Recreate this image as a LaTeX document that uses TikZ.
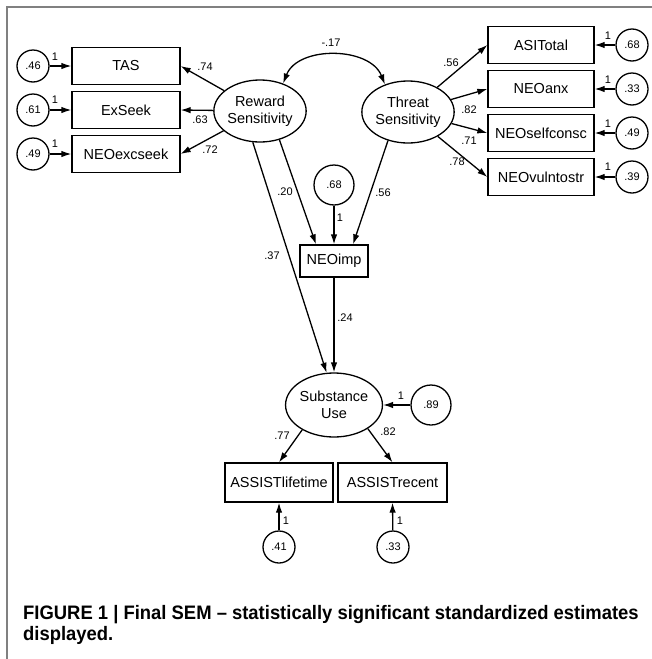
\documentclass[tikz,border=0pt]{standalone}
\usepackage{fontspec}
\setmainfont{Liberation Sans}
\newfontfamily\capfont[FakeStretch=0.945]{Liberation Sans}
\usetikzlibrary{shapes.geometric,arrows.meta,calc}
\begin{document}
\begin{tikzpicture}[x=1pt,y=-1pt,
  box/.style={draw,line width=1.3pt,minimum width=#1,minimum height=37pt,inner sep=0pt,font=\fontsize{14.5}{16}\selectfont},
  box/.default=108pt,
  lat/.style={ellipse,draw,line width=1.3pt,minimum width=92pt,minimum height=62pt,inner sep=0pt,align=center,font=\fontsize{14.5}{16.5}\selectfont},
  err/.style={circle,draw,line width=1.3pt,minimum size=32pt,inner sep=0pt,font=\fontsize{11}{12}\selectfont},
  bigerr/.style={err,minimum size=40pt},
  lbl/.style={font=\fontsize{11}{12}\selectfont,inner sep=0pt},
  arr/.style={line width=1.3pt,-{Latex[length=10pt,width=6.5pt]}},
  frame/.style={draw=gray,line width=1.5pt},
  captext/.style={anchor=base west,inner sep=0pt,font=\capfont\bfseries\fontsize{19.5}{22}\selectfont}
]
\useasboundingbox (0,0) rectangle (652,659);
\draw[frame] (7,659) -- (7,7) -- (652,7);

% latent variables
\node[lat] (rew) at (260,111) {Reward\\Sensitivity};
\node[lat,minimum width=90pt] (thr) at (408,112) {Threat\\Sensitivity};
\node[lat,minimum width=90pt,minimum height=64pt] (su) at (334,405) {Substance\\Use};

% left indicators
\node[box] (tas) at (126,66) {TAS};
\node[box] (exs) at (126,110) {ExSeek};
\node[box] (nex) at (126,154) {NEOexcseek};
\node[err] (e1) at (33,66) {.46};
\node[err] (e2) at (33,110) {.61};
\node[err] (e3) at (33,154) {.49};

% right indicators
\node[box=106pt] (asi) at (541,45) {ASITotal};
\node[box=106pt] (anx) at (541,89) {NEOanx};
\node[box=106pt] (sel) at (541,133) {NEOselfconsc};
\node[box=106pt] (vul) at (541,177) {NEOvulntostr};
\node[err] (e4) at (632,45) {.68};
\node[err] (e5) at (632,89) {.33};
\node[err] (e6) at (632,133) {.49};
\node[err] (e7) at (632,177) {.39};

% middle
\node[box=68pt,minimum height=32pt] (imp) at (334,261) {NEOimp};
\node[bigerr] (eimp) at (334,185) {.68};
\node[bigerr] (esu) at (431,405) {.89};

% bottom
\node[box,minimum height=39pt] (alt) at (279,482.5) {ASSISTlifetime};
\node[box=109pt,minimum height=39pt] (arc) at (392.5,482.5) {ASSISTrecent};
\node[err] (e8) at (279,547) {.41};
\node[err] (e9) at (393,547) {.33};

% covariance
\draw[line width=1.3pt,{Latex[length=10pt,width=6.5pt]}-{Latex[length=10pt,width=6.5pt]}]
  (rew.50) .. controls +(15,-38) and +(-15,-38) .. (thr.130);
\node[lbl] (lcov) at (331,43) {-.17};

% loadings
\draw[arr] (rew) -- (tas.east);
\draw[arr] (rew) -- (exs.east);
\draw[arr] (rew) -- (nex.east);
\draw[arr] (thr) -- (asi.west);
\draw[arr] (thr) -- (anx.west);
\draw[arr] (thr) -- (sel.west);
\draw[arr] (thr) -- (vul.west);
\node[lbl] (l1) at (205,67) {.74};
\node[lbl] (l2) at (200,120) {.63};
\node[lbl] (l3) at (210,150) {.72};
\node[lbl] (l4) at (451,63) {.56};
\node[lbl] (l5) at (469,110) {.82};
\node[lbl] (l6) at (469,141) {.71};
\node[lbl] (l7) at (457,162) {.78};

% structural paths
\draw[arr] (rew.-56) -- ($(imp.north)+(-18,0)$);
\draw[arr] (thr.-125) -- ($(imp.north)+(19,0)$);
\draw[arr] (rew.-103) -- (su.103);
\draw[arr] (imp.south) -- (su.north);
\node[lbl] (p1) at (285,192) {.20};
\node[lbl] (p2) at (383,193) {.56};
\node[lbl] (p3) at (272,256) {.37};
\node[lbl] (p4) at (345,318) {.24};

% substance indicators
\draw[arr] (su.-142) -- (alt.north);
\draw[arr] (su.-35) -- (arc.north);
\node[lbl] (p5) at (282,436) {.77};
\node[lbl] (p6) at (388,432) {.82};

% error arrows
\draw[arr] (e1) -- (tas.west);
\draw[arr] (e2) -- (exs.west);
\draw[arr] (e3) -- (nex.west);
\draw[arr] (e4) -- (asi.east);
\draw[arr] (e5) -- (anx.east);
\draw[arr] (e6) -- (sel.east);
\draw[arr] (e7) -- (vul.east);
\draw[arr] (eimp) -- (imp.north);
\draw[arr] (esu) -- (su);
\draw[arr] (e8) -- (alt.south);
\draw[arr] (e9) -- (arc.south);
\node[lbl] (o1) at (55,57) {1};
\node[lbl] (o2) at (55,100) {1};
\node[lbl] (o3) at (55,144) {1};
\node[lbl] (o4) at (608,36) {1};
\node[lbl] (o5) at (608,80) {1};
\node[lbl] (o6) at (608,124) {1};
\node[lbl] (o7) at (608,167) {1};
\node[lbl] (o8) at (340,218) {1};
\node[lbl] (o9) at (401,396) {1};
\node[lbl] (o10) at (286,521) {1};
\node[lbl] (o11) at (400,521) {1};

% caption
\node[captext] (cap1) at (23,619)
  {FIGURE 1 | Final SEM – statistically significant standardized estimates};
\node[captext] (cap2) at (23,640) {displayed.};
\end{tikzpicture}
\end{document}
